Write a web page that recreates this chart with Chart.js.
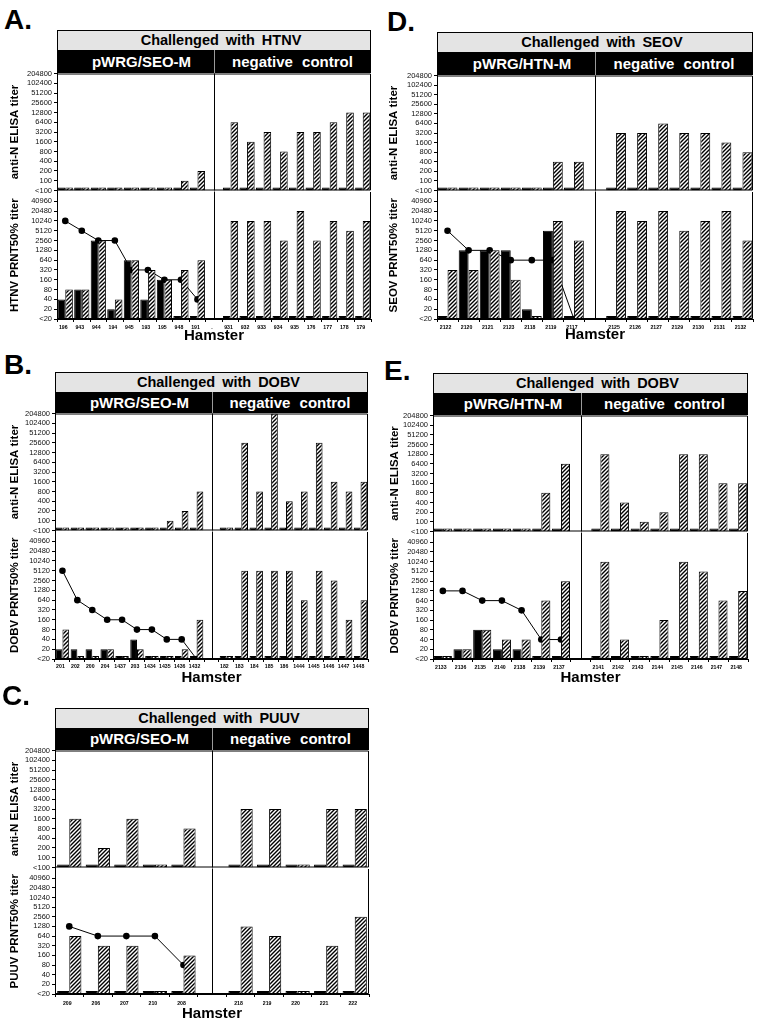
<!DOCTYPE html>
<html>
<head>
<meta charset="utf-8">
<script src="https://cdn.jsdelivr.net/npm/chart.js@4"></script>
<style>
  body { margin: 0; background: #fff; width: 765px; height: 1024px; position: relative; overflow: hidden;
         font-family: "Liberation Sans", Arial, Helvetica, sans-serif; }
  canvas { position: absolute; }
  .letter { position: absolute; font-weight: bold; font-size: 28px; line-height: 28px; color: #000; }
  .head { position: absolute; box-sizing: border-box; border: 1px solid #000; height: 21px;
          background: #eeeeee radial-gradient(circle, #cfcfcf 0.5px, transparent 0.8px) 0 0 / 2px 2px;
          font-weight: bold; font-size: 14.5px; line-height: 19px; text-align: center; word-spacing: 3px;
          padding-left: 14px; color: #000; }
  .band { position: absolute; background: #000; }
  .band span { position: absolute; top: 0; color: #fff; font-weight: bold; font-size: 15px; text-align: center; }
  .band i { position: absolute; top: 0; bottom: 0; width: 1px; background: #9a9a9a; }
</style>
</head>
<body>
<script>
// titer values; "<100" (ELISA) and "<20" (PRNT) sit at the bottom of each axis
var LT100 = 50;
var LT20 = 10;
var elisaTicks = [50, 100, 200, 400, 800, 1600, 3200, 6400, 12800, 25600, 51200, 102400, 204800];
var prntTicks = [10, 20, 40, 80, 160, 320, 640, 1280, 2560, 5120, 10240, 20480, 40960];

// A. Challenged with HTNV
var hamstersA = ["196", "943", "944", "194", "945", "193", "195", "948", "191", ".", "931", "932", "933", "934", "935", "176", "177", "178", "179"];
var elisaPreA = [LT100, LT100, LT100, LT100, LT100, LT100, LT100, LT100, LT100, null, LT100, LT100, LT100, LT100, LT100, LT100, LT100, LT100, LT100];
var elisaPostA = [LT100, LT100, LT100, LT100, LT100, LT100, LT100, 100, 200, null, 6400, 1600, 3200, 800, 3200, 3200, 6400, 12800, 12800];
var prntPreA = [40, 80, 2560, 20, 640, 40, 160, LT20, LT20, null, LT20, LT20, LT20, LT20, LT20, LT20, LT20, LT20, LT20];
var prntPostA = [80, 80, 2560, 40, 640, 320, 160, 320, 640, null, 10240, 10240, 10240, 2560, 20480, 2560, 10240, 5120, 10240];
var prntLineA = [10240, 5120, 2560, 2560, 320, 320, 160, 160, 40, null, null, null, null, null, null, null, null, null, null];

// B. Challenged with DOBV (pWRG/SEO-M)
var hamstersB = ["201", "202", "200", "204", "1437", "203", "1434", "1435", "1436", "1432", "", "182", "183", "184", "185", "186", "1444", "1445", "1446", "1447", "1448"];
var elisaPreB = [LT100, LT100, LT100, LT100, LT100, LT100, LT100, LT100, LT100, LT100, null, LT100, LT100, LT100, LT100, LT100, LT100, LT100, LT100, LT100, LT100];
var elisaPostB = [LT100, LT100, LT100, LT100, LT100, LT100, LT100, 100, 200, 800, null, LT100, 25600, 800, 204800, 400, 800, 25600, 1600, 800, 1600];
var prntPreB = [20, 20, 20, 20, LT20, 40, LT20, LT20, LT20, LT20, null, LT20, LT20, LT20, LT20, LT20, LT20, LT20, LT20, LT20, LT20];
var prntPostB = [80, LT20, LT20, 20, LT20, 20, LT20, LT20, 20, 160, null, LT20, 5120, 5120, 5120, 5120, 640, 5120, 2560, 160, 640];
var prntLineB = [5120, 640, 320, 160, 160, 80, 80, 40, 40, LT20, null, null, null, null, null, null, null, null, null, null, null];

// C. Challenged with PUUV
var hamstersC = ["209", "206", "207", "210", "208", "", "218", "219", "220", "221", "222"];
var elisaPreC = [LT100, LT100, LT100, LT100, LT100, null, LT100, LT100, LT100, LT100, LT100];
var elisaPostC = [1600, 200, 1600, LT100, 800, null, 3200, 3200, LT100, 3200, 3200];
var prntPreC = [LT20, LT20, LT20, LT20, LT20, null, LT20, LT20, LT20, LT20, LT20];
var prntPostC = [640, 320, 320, LT20, 160, null, 1280, 640, LT20, 320, 2560];
var prntLineC = [1280, 640, 640, 640, 80, null, null, null, null, null, null];

// D. Challenged with SEOV
var hamstersD = ["2122", "2120", "2121", "2123", "2118", "2119", "2117", "", "2125", "2126", "2127", "2129", "2130", "2131", "2132"];
var elisaPreD = [LT100, LT100, LT100, LT100, LT100, LT100, LT100, null, LT100, LT100, LT100, LT100, LT100, LT100, LT100];
var elisaPostD = [LT100, LT100, LT100, LT100, LT100, 400, 400, null, 3200, 3200, 6400, 3200, 3200, 1600, 800];
var prntPreD = [LT20, 1280, 1280, 1280, 20, 5120, LT20, null, LT20, LT20, LT20, LT20, LT20, LT20, LT20];
var prntPostD = [320, 320, 1280, 160, LT20, 10240, 2560, null, 20480, 10240, 20480, 5120, 10240, 20480, 2560];
var prntLineD = [5120, 1280, 1280, 640, 640, 640, LT20, null, null, null, null, null, null, null, null];

// E. Challenged with DOBV (pWRG/HTN-M)
var hamstersE = ["2133", "2136", "2135", "2140", "2138", "2139", "2137", "", "2141", "2142", "2143", "2144", "2145", "2146", "2147", "2148"];
var elisaPreE = [LT100, LT100, LT100, LT100, LT100, LT100, LT100, null, LT100, LT100, LT100, LT100, LT100, LT100, LT100, LT100];
var elisaPostE = [LT100, LT100, LT100, LT100, LT100, 800, 6400, null, 12800, 400, 100, 200, 12800, 12800, 1600, 1600];
var prntPreE = [LT20, 20, 80, 20, 20, LT20, LT20, null, LT20, LT20, LT20, LT20, LT20, LT20, LT20, LT20];
var prntPostE = [LT20, 20, 80, 40, 40, 640, 2560, null, 10240, 40, LT20, 160, 10240, 5120, 640, 1280];
var prntLineE = [1280, 1280, 640, 640, 320, 40, 40, null, null, null, null, null, null, null, null, null];

// page layout of each panel
var panels = [
  { letter: "A.", virus: "HTNV", vaccine: "pWRG/SEO-M", hamsters: hamstersA,
    elisaPre: elisaPreA, elisaPost: elisaPostA, prntPre: prntPreA, prntPost: prntPostA, prntLine: prntLineA,
    labelX: 4, labelY: 6, left: 57, right: 371, top: 30, elisaTop: 73, split: 191, bottom: 319, xh: 26, xpad: 2, titleX: 15, cat: 0.92 },
  { letter: "D.", virus: "SEOV", vaccine: "pWRG/HTN-M", hamsters: hamstersD,
    elisaPre: elisaPreD, elisaPost: elisaPostD, prntPre: prntPreD, prntPost: prntPostD, prntLine: prntLineD,
    labelX: 387, labelY: 8, left: 437, right: 753, top: 32, elisaTop: 75, split: 191, bottom: 319, xh: 25, xpad: 2, titleX: 394, cat: 0.94 },
  { letter: "B.", virus: "DOBV", vaccine: "pWRG/SEO-M", hamsters: hamstersB,
    elisaPre: elisaPreB, elisaPost: elisaPostB, prntPre: prntPreB, prntPost: prntPostB, prntLine: prntLineB,
    labelX: 4, labelY: 351, left: 55, right: 368, top: 372, elisaTop: 413, split: 531, bottom: 659, xh: 28, xpad: 1, titleX: 15, cat: 0.9 },
  { letter: "E.", virus: "DOBV", vaccine: "pWRG/HTN-M", hamsters: hamstersE,
    elisaPre: elisaPreE, elisaPost: elisaPostE, prntPre: prntPreE, prntPost: prntPostE, prntLine: prntLineE,
    labelX: 384, labelY: 357, left: 433, right: 748, top: 373, elisaTop: 415, split: 532, bottom: 659, xh: 28, xpad: 2, titleX: 395, cat: 0.92 },
  { letter: "C.", virus: "PUUV", vaccine: "pWRG/SEO-M", hamsters: hamstersC,
    elisaPre: elisaPreC, elisaPost: elisaPostC, prntPre: prntPreC, prntPost: prntPostC, prntLine: prntLineC,
    labelX: 2, labelY: 682, left: 55, right: 369, top: 708, elisaTop: 750, split: 868, bottom: 994, xh: 29, xpad: 3, titleX: 15, cat: 0.85 }
];

var AXW = 55; // width kept for the y axis of every plot

Chart.defaults.font.family = '"Liberation Sans", Arial, Helvetica, sans-serif';
Chart.defaults.color = "#000";

function el(tag, cls, css, text) {
  var e = document.createElement(tag);
  if (cls) e.className = cls;
  Object.assign(e.style, css || {});
  if (text) e.textContent = text;
  document.body.appendChild(e);
  return e;
}

function makeCanvas(x, y, w, h) {
  var c = el("canvas", "", { left: x + "px", top: y + "px" });
  c.width = w;
  c.height = h;
  return c;
}

// diagonal hatch for the post-challenge bars
function makeHatch() {
  var c = document.createElement("canvas");
  c.width = 4; c.height = 4;
  var g = c.getContext("2d");
  g.fillStyle = "#fff";
  g.fillRect(0, 0, 4, 4);
  g.strokeStyle = "#000";
  g.lineWidth = 1.4;
  g.beginPath();
  g.moveTo(0, 4); g.lineTo(4, 0);
  g.moveTo(-1, 1); g.lineTo(1, -1);
  g.moveTo(3, 5); g.lineTo(5, 3);
  g.stroke();
  return g.createPattern(c, "repeat");
}
var HATCH = makeHatch();

// frame around the plot area plus the divider between the two groups
var boxPlugin = {
  id: "box",
  afterDatasetsDraw: function (chart, args, opts) {
    var ctx = chart.ctx, a = chart.chartArea, x = chart.scales.x;
    var l = a.left + 0.5, r = a.right - 0.5, t = a.top + 0.5, b = a.bottom - 0.5;
    ctx.save();
    ctx.strokeStyle = "#000";
    ctx.lineWidth = 1;
    ctx.beginPath();
    if (opts.top) { ctx.moveTo(l, t); ctx.lineTo(r, t); }
    ctx.moveTo(r, t); ctx.lineTo(r, b);
    ctx.moveTo(l, b); ctx.lineTo(r, b);
    var dx = Math.round(x.getPixelForValue(opts.split)) + 0.5;
    ctx.moveTo(dx, a.top);
    ctx.lineTo(dx, a.bottom);
    ctx.stroke();
    ctx.restore();
  }
};

function yScale(title, ticks, max, titlePad) {
  return {
    type: "logarithmic",
    min: ticks[0],
    max: max,
    bounds: "data",
    afterBuildTicks: function (s) {
      s.ticks = ticks.map(function (v) { return { value: v }; });
    },
    afterFit: function (s) { s.width = AXW; },
    ticks: {
      autoSkip: false,
      padding: 2,
      color: "#111",
      font: { size: 7.5 },
      callback: function (v) { return v === ticks[0] ? "<" + ticks[1] : String(v); }
    },
    grid: { drawOnChartArea: false, drawTicks: true, tickLength: 3, color: "#000" },
    border: { color: "#000", width: 1 },
    title: { display: true, text: title, color: "#000", font: { size: 11.5, weight: "bold" }, padding: { top: titlePad, bottom: 0 } }
  };
}

function barSets(pre, post) {
  return [
    { type: "bar", data: pre, backgroundColor: "#000", borderColor: "#000", borderWidth: 1, order: 0 },
    { type: "bar", data: post, backgroundColor: HATCH, borderColor: "#000", borderWidth: 1, order: 0 }
  ];
}

function buildPanel(p) {
  var split = p.hamsters.findIndex(function (h) { return h === "" || h === "."; });
  var cx = p.left - AXW;
  var w = p.right - p.left + AXW + 6;
  var titlePad = p.titleX - cx - 7;

  el("div", "letter", { left: p.labelX + "px", top: p.labelY + "px" }, p.letter);

  var common = {
    responsive: false,
    animation: false,
    devicePixelRatio: 1,
    events: [],
    datasets: { bar: { categoryPercentage: p.cat, barPercentage: 1, minBarLength: 3 } },
    plugins: { legend: { display: false }, tooltip: { enabled: false } }
  };

  var c1 = makeCanvas(cx, p.elisaTop - 6, w, p.split - p.elisaTop + 12);
  new Chart(c1, {
    type: "bar",
    data: { labels: p.hamsters, datasets: barSets(p.elisaPre, p.elisaPost) },
    options: Object.assign({}, common, {
      layout: { padding: { top: 6, bottom: 6, right: 6, left: 0 } },
      plugins: { legend: { display: false }, tooltip: { enabled: false }, box: { split: split, top: true } },
      scales: {
        x: { display: false },
        y: yScale("anti-N ELISA titer", elisaTicks, 204800, titlePad)
      }
    }),
    plugins: [boxPlugin]
  });

  var c2 = makeCanvas(cx, p.split - 6, w, p.bottom - p.split + 6 + p.xh);
  var prnt = new Chart(c2, {
    type: "bar",
    data: {
      labels: p.hamsters,
      datasets: [{
        type: "line", data: p.prntLine, borderColor: "#000", borderWidth: 1, tension: 0,
        pointRadius: 3.3, pointBackgroundColor: "#000", pointBorderWidth: 0, order: 2
      }].concat(barSets(p.prntPre, p.prntPost))
    },
    options: Object.assign({}, common, {
      layout: { padding: { top: 6, bottom: 0, right: 6, left: 0 } },
      plugins: { legend: { display: false }, tooltip: { enabled: false }, box: { split: split, top: false } },
      scales: {
        x: {
          afterFit: function (s) { s.height = p.xh; },
          ticks: { autoSkip: false, maxRotation: 0, minRotation: 0, padding: p.xpad, labelOffset: -2,
                   color: "#000", font: { size: 5.2, weight: "bold" } },
          grid: { drawOnChartArea: false, drawTicks: true, tickLength: 3, color: "#000", offset: true },
          border: { color: "#000", width: 1 },
          title: { display: true, text: "Hamster", color: "#000", font: { size: 15, weight: "bold" }, padding: { top: 0, bottom: 0 } }
        },
        y: yScale(p.virus + " PRNT50% titer", prntTicks, 81920, titlePad)
      }
    }),
    plugins: [boxPlugin]
  });

  // header strips above the plots
  var bw = p.right - p.left;
  el("div", "head", { left: p.left + "px", top: p.top + "px", width: bw + "px" }, "Challenged with " + p.virus);
  var bandTop = p.top + 20;
  var bh = p.elisaTop - bandTop;
  var band = el("div", "band", { left: p.left + "px", top: bandTop + "px", width: bw + "px", height: bh + "px" });
  var dx = Math.round(prnt.scales.x.getPixelForValue(split)) + cx - p.left;
  var s1 = document.createElement("span");
  s1.textContent = p.vaccine;
  Object.assign(s1.style, { left: "6px", width: dx + "px", lineHeight: bh + "px" });
  var s2 = document.createElement("span");
  s2.textContent = "negative control";
  Object.assign(s2.style, { left: dx + "px", width: (bw - dx) + "px", lineHeight: bh + "px", wordSpacing: "5px" });
  var d = document.createElement("i");
  d.style.left = dx + "px";
  band.appendChild(s1);
  band.appendChild(s2);
  band.appendChild(d);
}

panels.forEach(buildPanel);
</script>
</body>
</html>
